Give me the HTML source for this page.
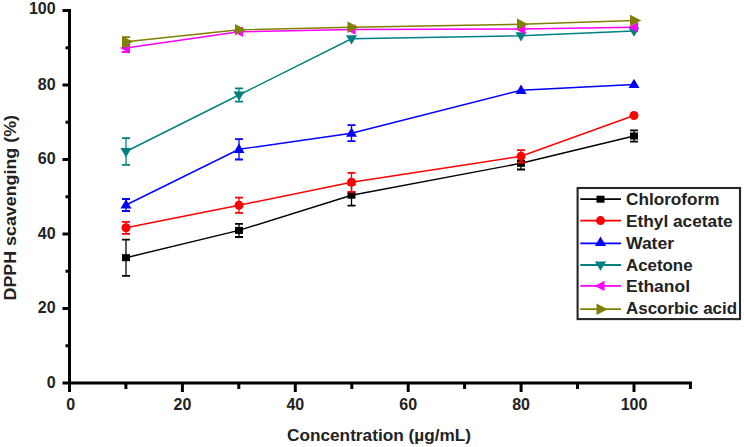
<!DOCTYPE html>
<html><head><meta charset="utf-8"><style>
html,body{margin:0;padding:0;background:#fff;}
svg{display:block;}
text{font-family:"Liberation Sans",sans-serif;}
</style></head><body>
<svg width="744" height="447" viewBox="0 0 744 447">
<g stroke="#000" stroke-width="3" fill="none">
<path d="M69.5 9V383M68 383H691.9"/>
<path d="M62.5 383.0H69.5"/>
<path d="M62.5 308.5H69.5"/>
<path d="M62.5 234.0H69.5"/>
<path d="M62.5 159.5H69.5"/>
<path d="M62.5 85.0H69.5"/>
<path d="M62.5 10.5H69.5"/>
<path d="M65.5 345.8H69.5"/>
<path d="M65.5 271.2H69.5"/>
<path d="M65.5 196.8H69.5"/>
<path d="M65.5 122.2H69.5"/>
<path d="M65.5 47.8H69.5"/>
<path d="M69.5 383V392"/>
<path d="M182.4 383V392"/>
<path d="M295.3 383V392"/>
<path d="M408.2 383V392"/>
<path d="M521.1 383V392"/>
<path d="M634.0 383V392"/>
<path d="M125.9 383V389"/>
<path d="M238.8 383V389"/>
<path d="M351.8 383V389"/>
<path d="M464.6 383V389"/>
<path d="M577.5 383V389"/>
<path d="M690.4 383V389"/>
</g>
<g font-weight="bold" font-size="16" fill="#222">
<text x="55.6" y="387.8" text-anchor="end">0</text>
<text x="55.6" y="313.3" text-anchor="end">20</text>
<text x="55.6" y="238.8" text-anchor="end">40</text>
<text x="55.6" y="164.3" text-anchor="end">60</text>
<text x="55.6" y="89.8" text-anchor="end">80</text>
<text x="55.6" y="14.0" text-anchor="end">100</text>
<text x="70.8" y="410" text-anchor="middle">0</text>
<text x="182.4" y="410" text-anchor="middle">20</text>
<text x="295.3" y="410" text-anchor="middle">40</text>
<text x="408.2" y="410" text-anchor="middle">60</text>
<text x="521.1" y="410" text-anchor="middle">80</text>
<text x="634.0" y="410" text-anchor="middle">100</text>
<text x="287" y="440.5" textLength="184" lengthAdjust="spacingAndGlyphs">Concentration (µg/mL)</text>
<text transform="translate(16 300.5) rotate(-90)" textLength="185.5" lengthAdjust="spacingAndGlyphs">DPPH scavenging (%)</text>
</g>
<path d="M126.0 257.7L239.0 230.4L351.5 195.2L521.0 163.3L634.0 136.0" stroke="#000000" stroke-width="1.45" fill="none"/>
<path d="M126.0 227.8L239.0 205.2L351.5 182.3L521.0 156.3L634.0 115.5" stroke="#ff0000" stroke-width="1.45" fill="none"/>
<path d="M126.0 205.0L239.0 149.3L351.5 133.2L521.0 90.3L634.0 84.5" stroke="#0000ff" stroke-width="1.45" fill="none"/>
<path d="M126.0 151.5L239.0 95.0L351.5 38.8L521.0 35.8L634.0 31.0" stroke="#008080" stroke-width="1.45" fill="none"/>
<path d="M126.0 48.0L239.0 31.8L351.5 29.5L521.0 29.0L634.0 27.2" stroke="#ff00ff" stroke-width="1.45" fill="none"/>
<path d="M126.0 41.8L239.0 29.8L351.5 27.2L521.0 24.3L634.0 20.5" stroke="#808000" stroke-width="1.45" fill="none"/>
<path d="M126.0 239.6V275.8" stroke="#000000" stroke-width="1.3"/><path d="M122.0 239.6H130.0M122.0 275.8H130.0" stroke="#000000" stroke-width="1.8"/>
<rect x="122.0" y="254.2" width="8" height="7" fill="#000000"/>
<path d="M239.0 223.8V237.0" stroke="#000000" stroke-width="1.3"/><path d="M235.0 223.8H243.0M235.0 237.0H243.0" stroke="#000000" stroke-width="1.8"/>
<rect x="235.0" y="226.9" width="8" height="7" fill="#000000"/>
<path d="M351.5 184.7V205.7" stroke="#000000" stroke-width="1.3"/><path d="M347.5 184.7H355.5M347.5 205.7H355.5" stroke="#000000" stroke-width="1.8"/>
<rect x="347.5" y="191.7" width="8" height="7" fill="#000000"/>
<path d="M521.0 157.1V169.5" stroke="#000000" stroke-width="1.3"/><path d="M517.0 157.1H525.0M517.0 169.5H525.0" stroke="#000000" stroke-width="1.8"/>
<rect x="517.0" y="159.8" width="8" height="7" fill="#000000"/>
<path d="M634.0 130.3V141.7" stroke="#000000" stroke-width="1.3"/><path d="M630.0 130.3H638.0M630.0 141.7H638.0" stroke="#000000" stroke-width="1.8"/>
<rect x="630.0" y="132.5" width="8" height="7" fill="#000000"/>
<path d="M126.0 221.8V233.8" stroke="#ff0000" stroke-width="1.3"/><path d="M122.0 221.8H130.0M122.0 233.8H130.0" stroke="#ff0000" stroke-width="1.8"/>
<circle cx="126.0" cy="227.8" r="4.5" fill="#ff0000"/>
<path d="M239.0 197.6V212.8" stroke="#ff0000" stroke-width="1.3"/><path d="M235.0 197.6H243.0M235.0 212.8H243.0" stroke="#ff0000" stroke-width="1.8"/>
<circle cx="239.0" cy="205.2" r="4.5" fill="#ff0000"/>
<path d="M351.5 172.8V191.8" stroke="#ff0000" stroke-width="1.3"/><path d="M347.5 172.8H355.5M347.5 191.8H355.5" stroke="#ff0000" stroke-width="1.8"/>
<circle cx="351.5" cy="182.3" r="4.5" fill="#ff0000"/>
<path d="M521.0 150.1V162.5" stroke="#ff0000" stroke-width="1.3"/><path d="M517.0 150.1H525.0M517.0 162.5H525.0" stroke="#ff0000" stroke-width="1.8"/>
<circle cx="521.0" cy="156.3" r="4.5" fill="#ff0000"/>
<circle cx="634.0" cy="115.5" r="4.5" fill="#ff0000"/>
<path d="M126.0 199.0V211.0" stroke="#0000ff" stroke-width="1.3"/><path d="M122.0 199.0H130.0M122.0 211.0H130.0" stroke="#0000ff" stroke-width="1.8"/>
<path d="M126.0 199.2L131.5 208.6L120.5 208.6Z" fill="#0000ff"/>
<path d="M239.0 139.1V159.5" stroke="#0000ff" stroke-width="1.3"/><path d="M235.0 139.1H243.0M235.0 159.5H243.0" stroke="#0000ff" stroke-width="1.8"/>
<path d="M239.0 143.5L244.5 152.9L233.5 152.9Z" fill="#0000ff"/>
<path d="M351.5 125.2V141.2" stroke="#0000ff" stroke-width="1.3"/><path d="M347.5 125.2H355.5M347.5 141.2H355.5" stroke="#0000ff" stroke-width="1.8"/>
<path d="M351.5 127.4L357.0 136.8L346.0 136.8Z" fill="#0000ff"/>
<path d="M521.0 84.5L526.5 93.9L515.5 93.9Z" fill="#0000ff"/>
<path d="M634.0 78.7L639.5 88.1L628.5 88.1Z" fill="#0000ff"/>
<path d="M126.0 138.2V164.8" stroke="#008080" stroke-width="1.3"/><path d="M122.0 138.2H130.0M122.0 164.8H130.0" stroke="#008080" stroke-width="1.8"/>
<path d="M126.0 157.3L131.6 147.9L120.4 147.9Z" fill="#008080"/>
<path d="M239.0 88.4V101.6" stroke="#008080" stroke-width="1.3"/><path d="M235.0 88.4H243.0M235.0 101.6H243.0" stroke="#008080" stroke-width="1.8"/>
<path d="M239.0 100.8L244.6 91.4L233.4 91.4Z" fill="#008080"/>
<path d="M351.5 44.6L357.1 35.2L345.9 35.2Z" fill="#008080"/>
<path d="M521.0 41.6L526.6 32.2L515.4 32.2Z" fill="#008080"/>
<path d="M634.0 36.8L639.6 27.4L628.4 27.4Z" fill="#008080"/>
<path d="M126.0 44.0V52.0" stroke="#ff00ff" stroke-width="1.3"/><path d="M122.0 44.0H130.0M122.0 52.0H130.0" stroke="#ff00ff" stroke-width="1.8"/>
<path d="M120.0 48.0L130.0 42.8L130.0 53.2Z" fill="#ff00ff"/>
<path d="M233.0 31.8L243.0 26.6L243.0 37.0Z" fill="#ff00ff"/>
<path d="M345.5 29.5L355.5 24.3L355.5 34.7Z" fill="#ff00ff"/>
<path d="M515.0 29.0L525.0 23.8L525.0 34.2Z" fill="#ff00ff"/>
<path d="M628.0 27.2L638.0 22.0L638.0 32.4Z" fill="#ff00ff"/>
<path d="M126.0 37.2V46.4" stroke="#808000" stroke-width="1.3"/><path d="M122.0 37.2H130.0M122.0 46.4H130.0" stroke="#808000" stroke-width="1.8"/>
<path d="M133.2 41.8L122.0 36.0L122.0 47.6Z" fill="#808000"/>
<path d="M246.2 29.8L235.0 24.0L235.0 35.6Z" fill="#808000"/>
<path d="M358.7 27.2L347.5 21.4L347.5 33.0Z" fill="#808000"/>
<path d="M528.2 24.3L517.0 18.5L517.0 30.1Z" fill="#808000"/>
<path d="M641.2 20.5L630.0 14.7L630.0 26.3Z" fill="#808000"/>
<rect x="577.6" y="188" width="162.4" height="131.1" fill="#fff" stroke="#262626" stroke-width="2.1"/>
<g font-weight="bold" font-size="16" fill="#222">
<path d="M580.3 199.2H621" stroke="#000000" stroke-width="1.8"/>
<rect x="596.5" y="195.7" width="8" height="7" fill="#000000"/>
<text x="626" y="205.3" textLength="93.5" lengthAdjust="spacingAndGlyphs">Chloroform</text>
<path d="M580.3 220.6H621" stroke="#ff0000" stroke-width="1.8"/>
<circle cx="600.5" cy="220.6" r="4.5" fill="#ff0000"/>
<text x="626" y="227.0" textLength="106.5" lengthAdjust="spacingAndGlyphs">Ethyl acetate</text>
<path d="M580.3 243.4H621" stroke="#0000ff" stroke-width="1.8"/>
<path d="M600.5 236.6L606.0 246.0L595.0 246.0Z" fill="#0000ff"/>
<text x="626" y="248.7" textLength="48" lengthAdjust="spacingAndGlyphs">Water</text>
<path d="M580.3 265H621" stroke="#008080" stroke-width="1.8"/>
<path d="M600.5 270.8L606.1 261.4L594.9 261.4Z" fill="#008080"/>
<text x="626" y="270.5" textLength="66.5" lengthAdjust="spacingAndGlyphs">Acetone</text>
<path d="M580.3 285.9H621" stroke="#ff00ff" stroke-width="1.8"/>
<path d="M594.5 285.9L604.5 280.7L604.5 291.1Z" fill="#ff00ff"/>
<text x="626" y="292.2" textLength="64" lengthAdjust="spacingAndGlyphs">Ethanol</text>
<path d="M580.3 309.2H621" stroke="#808000" stroke-width="1.8"/>
<path d="M607.7 309.2L596.5 303.4L596.5 315.0Z" fill="#808000"/>
<text x="626" y="313.9" textLength="111" lengthAdjust="spacingAndGlyphs">Ascorbic acid</text>
</g>
</svg>
</body></html>
